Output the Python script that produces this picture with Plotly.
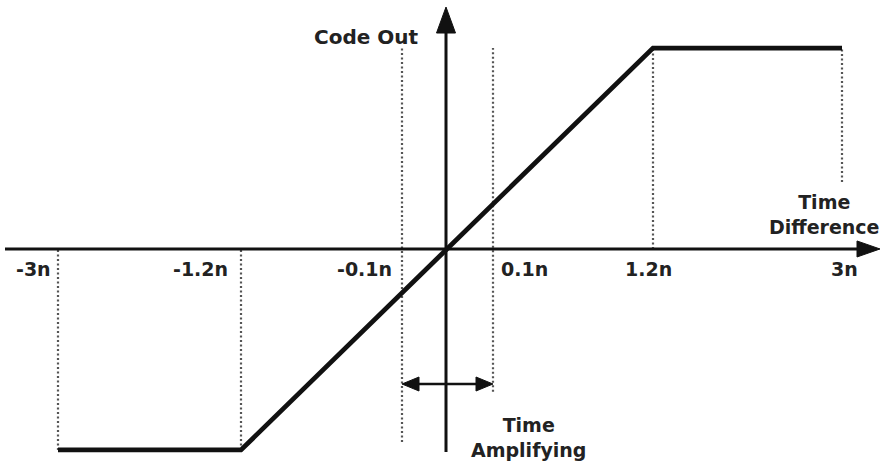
import plotly.graph_objects as go

# Time-difference breakpoints (ns) and their tick labels
tick_labels = ["-3n", "-1.2n", "-0.1n", "0.1n", "1.2n", "3n"]
# Schematic (not-to-scale) positions of the breakpoints along the horizontal axis
tick_pos = [-3.88, -2.05, -0.44, 0.47, 2.07, 3.96]

# Transfer characteristic: saturated code out beyond +/-1.2n, linear in between
curve_labels = ["-3n", "-1.2n", "1.2n", "3n"]
code_out = [-1.0, -1.0, 1.0, 1.0]

# Vertical guide lines: (label, bottom, top) in code-out units
guides = [("-3n", -1.0, 0.0), ("-1.2n", -1.0, 0.0), ("-0.1n", -0.96, 1.0),
          ("0.1n", -0.71, 1.0), ("1.2n", 0.0, 1.0), ("3n", 0.333, 1.0)]

pos = dict(zip(tick_labels, tick_pos))
curve_x = [pos[k] for k in curve_labels]

X_RANGE = [-4.46, 4.40]
Y_RANGE = [-1.09, 1.239]
ink = "#111111"
txt = "#222222"
FONT = "DejaVu Sans"

fig = go.Figure()

# Guide lines
for lab, y0, y1 in guides:
    fig.add_trace(go.Scatter(x=[pos[lab], pos[lab]], y=[y0, y1], mode="lines",
                             line=dict(color="#555555", width=2.2, dash="2px,2.5px"),
                             hoverinfo="skip", showlegend=False))

# Axes lines
fig.add_trace(go.Scatter(x=[-4.41, 4.12], y=[0, 0], mode="lines",
                         line=dict(color=ink, width=3), hoverinfo="skip", showlegend=False))
fig.add_trace(go.Scatter(x=[0, 0], y=[-1.01, 1.09], mode="lines",
                         line=dict(color=ink, width=3), hoverinfo="skip", showlegend=False))

# Transfer curve
fig.add_trace(go.Scatter(x=curve_x, y=code_out, mode="lines",
                         line=dict(color=ink, width=4.8), hoverinfo="skip", showlegend=False))

# Time-amplifying range arrow between the +/-0.1n guides
amp_y = -0.672
fig.add_trace(go.Scatter(x=[pos["-0.1n"] + 0.1, pos["0.1n"] - 0.1], y=[amp_y, amp_y], mode="lines",
                         line=dict(color=ink, width=2.5), hoverinfo="skip", showlegend=False))

shapes = []
def head(xa, ya, path):
    shapes.append(dict(type="path", xref="x", yref="y", xsizemode="pixel", ysizemode="pixel",
                       xanchor=xa, yanchor=ya, path=path, fillcolor=ink,
                       line=dict(color=ink, width=1)))

# x-axis arrowhead (tip at right), y-axis arrowhead (tip at top)
head(4.34, 0, "M0,0 L-23,8 L-23,-8 Z")
head(0, 1.204, "M0,0 L-9.5,-26 L9.5,-26 Z")
# double-arrow heads
head(pos["-0.1n"], amp_y, "M0,0 L17,7 L17,-7 Z")
head(pos["0.1n"], amp_y, "M0,0 L-17,7 L-17,-7 Z")

annotations = []
def label(x, y, text, size=19, align="center"):
    annotations.append(dict(x=x, y=y, xref="x", yref="y", text="<b>" + text + "</b>",
                            showarrow=False, align=align,
                            font=dict(family=FONT, size=size, color=txt)))

label_y = -0.10
label_x_off = {"-3n": -0.25, "-1.2n": -0.41, "-0.1n": -0.38, "0.1n": 0.31, "1.2n": -0.05, "3n": 0.02}
for lab in tick_labels:
    label(pos[lab] + label_x_off[lab], label_y, lab)

label(-0.80, 1.055, "Code Out", size=20)
label(3.78, 0.17, "Time<br>Difference")
label(0.82, -0.94, "Time<br>Amplifying")

fig.update_layout(
    width=886, height=468,
    margin=dict(l=0, r=0, t=0, b=0),
    paper_bgcolor="white", plot_bgcolor="white",
    xaxis=dict(range=X_RANGE, visible=False, fixedrange=True),
    yaxis=dict(range=Y_RANGE, visible=False, fixedrange=True),
    shapes=shapes, annotations=annotations,
)

fig.write_html("out.html")
